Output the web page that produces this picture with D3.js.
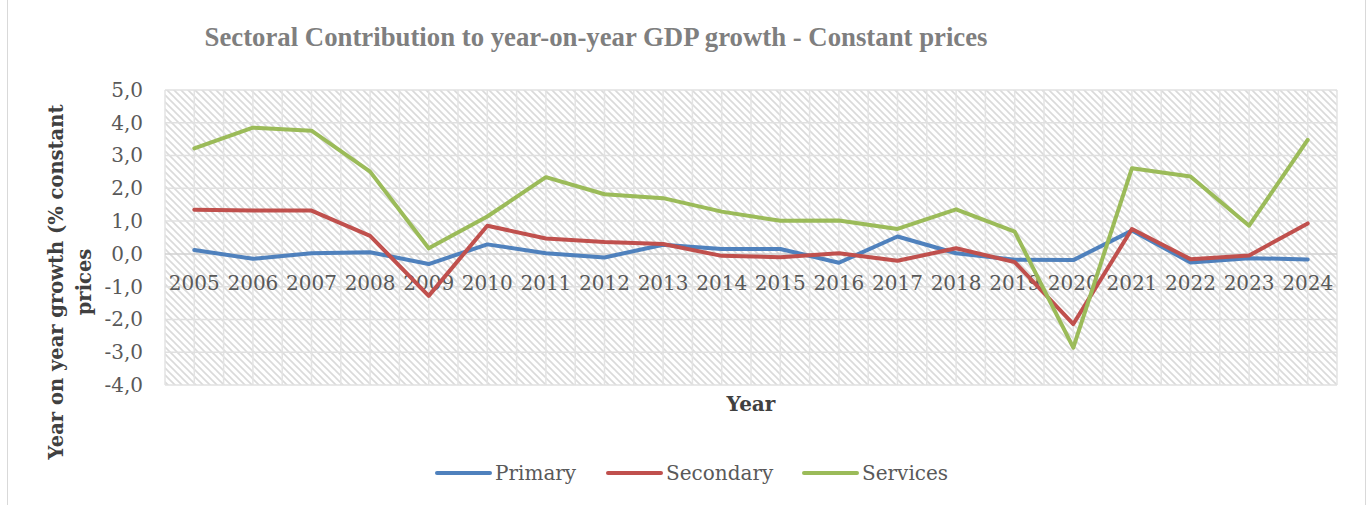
<!DOCTYPE html>
<html>
<head>
<meta charset="utf-8">
<script src="https://cdn.jsdelivr.net/npm/d3@7"></script>
<style>
  body { margin: 0; background: #fff; }
  svg { display: block; }
</style>
</head>
<body>
<svg id="chart"></svg>
<script>
const width = 1368;
const height = 505;

const years = ['2005','2006','2007','2008','2009','2010','2011','2012','2013','2014',
               '2015','2016','2017','2018','2019','2020','2021','2022','2023','2024'];
const primary   = [0.12,-0.15,0.02,0.05,-0.31,0.29,0.02,-0.11,0.28,0.15,0.15,-0.27,0.53,0.02,-0.18,-0.19,0.71,-0.26,-0.13,-0.17];
const secondary = [1.35,1.32,1.32,0.55,-1.28,0.86,0.47,0.36,0.30,-0.06,-0.10,0.02,-0.21,0.17,-0.25,-2.14,0.76,-0.16,-0.05,0.93];
const services  = [3.22,3.85,3.76,2.51,0.17,1.14,2.34,1.82,1.70,1.29,1.01,1.02,0.76,1.36,0.68,-2.86,2.61,2.36,0.86,3.48];
const yTicks = [5,4,3,2,1,0,-1,-2,-3,-4];

const series = [
  {name: 'Primary', values: primary, color: '#4F81BD'},
  {name: 'Secondary', values: secondary, color: '#C0504D'},
  {name: 'Services', values: services, color: '#9BBB59'}
];

const plot = {left: 165, right: 1337, top: 90, bottom: 385};
const serif = '"DejaVu Serif", serif';

const svg = d3.select('#chart')
  .attr('width', width)
  .attr('height', height);

// hatch pattern for plot background
const defs = svg.append('defs');
const pat = defs.append('pattern')
  .attr('id', 'hatch')
  .attr('patternUnits', 'userSpaceOnUse')
  .attr('width', 7).attr('height', 7);
pat.append('rect').attr('width', 7).attr('height', 7).attr('fill', '#fff');
pat.append('path')
  .attr('d', 'M0,0L7,7M-3.5,3.5L3.5,10.5M3.5,-3.5L10.5,3.5')
  .attr('stroke', '#dadada')
  .attr('stroke-width', 1.6);

// outer frame
svg.append('rect')
  .attr('x', 7.5).attr('y', -5)
  .attr('width', 1358).attr('height', 520)
  .attr('fill', 'none')
  .attr('stroke', '#d9d9d9');

const x = d3.scaleBand().domain(years).range([plot.left, plot.right]);
const y = d3.scaleLinear().domain([-4, 5]).range([plot.bottom, plot.top]);
const cx = d => x(d) + x.bandwidth() / 2;

svg.append('rect')
  .attr('x', plot.left).attr('y', plot.top)
  .attr('width', plot.right - plot.left)
  .attr('height', plot.bottom - plot.top)
  .attr('fill', 'url(#hatch)');

// vertical gridlines at band edges and centers
const vLines = [];
years.forEach(d => { vLines.push(x(d)); vLines.push(cx(d)); });
vLines.push(plot.right);
svg.append('g').selectAll('line')
  .data(vLines).enter().append('line')
  .attr('x1', d => d).attr('x2', d => d)
  .attr('y1', plot.top).attr('y2', plot.bottom)
  .attr('stroke', '#e3e3e3')
  .attr('stroke-width', 1.5);

svg.append('g').selectAll('line')
  .data(yTicks).enter().append('line')
  .attr('x1', plot.left).attr('x2', plot.right)
  .attr('y1', d => y(d)).attr('y2', d => y(d))
  .attr('stroke', d => d === 0 ? '#d0d0d0' : '#e0e0e0')
  .attr('stroke-width', 1.5);

const locale = d3.formatLocale({decimal: ',', thousands: '.', grouping: [3], currency: ['', ''], minus: '-'});
const fmt = locale.format('.1f');

const yAxis = svg.append('g')
  .attr('transform', `translate(${plot.left},0)`)
  .call(d3.axisLeft(y).tickValues(yTicks).tickFormat(fmt).tickSize(0).tickPadding(22));
yAxis.select('.domain').remove();
yAxis.selectAll('text')
  .attr('font-family', serif)
  .attr('font-size', 20)
  .attr('fill', '#595959');

const xAxis = svg.append('g')
  .attr('transform', `translate(0,${y(0)})`)
  .call(d3.axisBottom(x).tickSize(0).tickPadding(22));
xAxis.select('.domain').remove();
xAxis.selectAll('text')
  .attr('font-family', serif)
  .attr('font-size', 20)
  .attr('fill', '#595959');

const line = d3.line()
  .x((d, i) => cx(years[i]))
  .y(d => y(d));

svg.append('g').selectAll('path')
  .data(series).enter().append('path')
  .attr('d', d => line(d.values))
  .attr('fill', 'none')
  .attr('stroke', d => d.color)
  .attr('stroke-width', 4)
  .attr('stroke-linejoin', 'round')
  .attr('stroke-linecap', 'round');

// titles
svg.append('text')
  .attr('x', 596).attr('y', 46)
  .attr('text-anchor', 'middle')
  .attr('font-family', '"Liberation Serif", serif')
  .attr('font-weight', 'bold')
  .attr('font-size', 27)
  .attr('fill', '#7f7f7f')
  .attr('textLength', 783)
  .attr('lengthAdjust', 'spacingAndGlyphs')
  .text('Sectoral Contribution to year-on-year GDP growth - Constant prices');

svg.append('text')
  .attr('x', 751).attr('y', 411)
  .attr('text-anchor', 'middle')
  .attr('font-family', serif)
  .attr('font-weight', 'bold')
  .attr('font-size', 20)
  .attr('fill', '#404040')
  .text('Year');

const yTitle = svg.append('text')
  .attr('transform', 'translate(0,282) rotate(-90)')
  .attr('text-anchor', 'middle')
  .attr('font-family', serif)
  .attr('font-weight', 'bold')
  .attr('font-size', 19.5)
  .attr('fill', '#404040');
yTitle.append('tspan').attr('x', 0).attr('y', 63).text('Year on year growth (% constant');
yTitle.append('tspan').attr('x', 0).attr('y', 91).text('prices');

// legend
const legendX = [437, 608, 804];
const legend = svg.append('g').selectAll('g')
  .data(series).enter().append('g')
  .attr('transform', (d, i) => `translate(${legendX[i]},473)`);
legend.append('line')
  .attr('x1', 0).attr('x2', 53)
  .attr('stroke', d => d.color)
  .attr('stroke-width', 4)
  .attr('stroke-linecap', 'round');
legend.append('text')
  .attr('x', 58).attr('y', 7)
  .attr('font-family', serif)
  .attr('font-size', 20)
  .attr('fill', '#595959')
  .text(d => d.name);
</script>
</body>
</html>
